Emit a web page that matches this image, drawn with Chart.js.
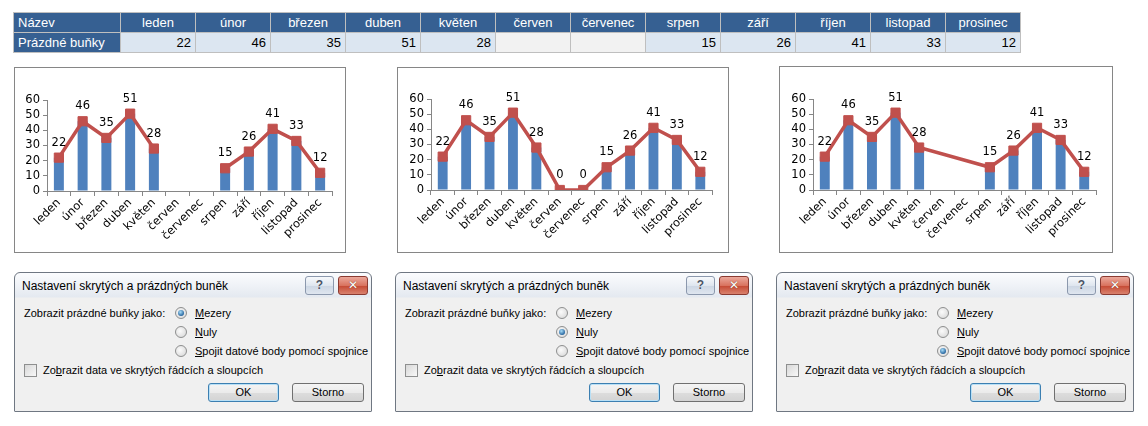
<!DOCTYPE html>
<html>
<head>
<meta charset="utf-8">
<script src="https://cdn.jsdelivr.net/npm/chart.js@4.4.0/dist/chart.umd.min.js"></script>
<style>
body{margin:0;background:#fff;width:1148px;height:426px;position:relative;overflow:hidden;font-family:"Liberation Sans",Arial,sans-serif;}
#tbl{position:absolute;left:13px;top:12px;border-collapse:collapse;table-layout:fixed;font-size:13px;}
#tbl td{height:19px;padding:0 4px;border:1px solid #bfbfbf;white-space:nowrap;overflow:hidden;}
#tbl tr.head td{background:#366092;color:#fff;text-align:center;}
#tbl td.name{background:#366092;color:#fff;text-align:left;}
#tbl td.num{background:#dce6f1;color:#000;text-align:right;}
#tbl td.empty{background:#f2f2f2;}
.box{position:absolute;border:1px solid #868686;background:#fff;}
.box canvas{display:block;}
.dlg{position:absolute;top:272px;width:358px;height:140px;box-sizing:border-box;border:1px solid #6f7782;border-radius:6px 6px 1px 1px;background:linear-gradient(#fbfcfe 0,#e4e9f0 24px,#f0f0f0 25px);font-size:11px;color:#000;}
.dlg .title{position:absolute;left:7px;top:6px;font-size:12px;}
.dlg .hb{position:absolute;top:3px;height:17px;border-radius:3px;text-align:center;line-height:17px;font-weight:bold;font-size:12px;}
.dlg .help{left:290px;width:27px;border:1px solid #8b98ad;background:linear-gradient(#f7f9fc,#dfe6ef 50%,#ccd6e3 51%,#dfe6f0);color:#4a5566;text-shadow:0 0 1px #fff;}
.dlg .close{left:323px;width:28px;border:1px solid #8a3a31;background:linear-gradient(#eba89b,#d9735f 50%,#c54832 51%,#d9826e);color:#fff;text-shadow:0 0 1px #5a1a10;font-family:"DejaVu Sans",sans-serif;}
.dlg .lbl{position:absolute;line-height:14px;white-space:nowrap;}
.dlg .rb{position:absolute;left:160px;width:12px;height:12px;box-sizing:border-box;border:1px solid #8e8f8f;border-radius:50%;background:radial-gradient(circle at 40% 40%,#fbfbfb,#d4d4d4);}
.dlg .rb.on::after{content:'';position:absolute;left:2px;top:2px;width:6px;height:6px;border-radius:50%;background:radial-gradient(circle at 40% 35%,#a9ddf8,#1f5f9a 75%);}
.dlg .cb{position:absolute;left:9px;top:91px;width:11px;height:11px;border:1px solid #8e8f8f;background:linear-gradient(135deg,#d8d8d8,#f8f8f8);}
.dlg .btn{position:absolute;top:110px;height:19px;box-sizing:border-box;border:1px solid #707070;border-radius:3px;background:linear-gradient(#f4f4f4,#ebebeb 50%,#dddddd 51%,#d3d3d3);text-align:center;line-height:17px;}
.dlg .btn.def{border-color:#3c7fb1;box-shadow:inset 0 0 0 1px #b9e0f6;}
</style>
</head>
<body>
<table id="tbl"></table>

<div class="box" style="left:14px;top:67px;"><canvas id="c1" width="330" height="184"></canvas></div>
<div class="box" style="left:397px;top:67px;"><canvas id="c2" width="330" height="184"></canvas></div>
<div class="box" style="left:779px;top:66px;"><canvas id="c3" width="332" height="185"></canvas></div>

<div id="dialogs"></div>

<script>
// data
const months = ['leden', 'únor', 'březen', 'duben', 'květen', 'červen', 'červenec', 'srpen', 'září', 'říjen', 'listopad', 'prosinec'];
const emptyCells = [22, 46, 35, 51, 28, null, null, 15, 26, 41, 33, 12];
const emptyAsZero = [22, 46, 35, 51, 28, 0, 0, 15, 26, 41, 33, 12];
const yTicks = [0, 10, 20, 30, 40, 50, 60];
const rowName = 'Prázdné buňky';
const headName = 'Název';

const dlgTitle = 'Nastavení skrytých a prázdných buněk';
const dlgOptions = ['<u>M</u>ezery', '<u>N</u>uly', '<u>S</u>pojit datové body pomocí spojnice'];

// table
const tbl = document.getElementById('tbl');
let html = '<colgroup><col style="width:107px">' + months.map(() => '<col style="width:75px">').join('') + '</colgroup>';
html += '<tr class="head"><td style="text-align:left">' + headName + '</td>' + months.map(m => '<td>' + m + '</td>').join('') + '</tr>';
html += '<tr><td class="name">' + rowName + '</td>' + emptyCells.map(v => v === null ? '<td class="empty"></td>' : '<td class="num">' + v + '</td>').join('') + '</tr>';
tbl.innerHTML = html;

// labels above the points
const valueLabels = {
  id: 'valueLabels',
  afterDatasetsDraw(chart) {
    const ctx = chart.ctx;
    const meta = chart.getDatasetMeta(0);
    const vals = chart.data.datasets[0].data;
    ctx.save();
    ctx.font = '11.5px "DejaVu Sans"';
    ctx.fillStyle = '#000';
    ctx.textAlign = 'center';
    ctx.textBaseline = 'alphabetic';
    meta.data.forEach((pt, i) => {
      if (vals[i] === null) return;
      ctx.fillText(String(vals[i]), pt.x, pt.y - 12);
    });
    ctx.restore();
  }
};

const tickFont = { family: '"DejaVu Sans"', size: 11.5 };

function drawChart(id, values, joinGaps, g) {
  new Chart(document.getElementById(id), {
    type: 'bar',
    data: {
      labels: months,
      datasets: [
        {
          type: 'line',
          data: values,
          borderColor: '#C0504D',
          borderWidth: 3.5,
          pointStyle: 'rect',
          pointRadius: 6.5,
          pointBackgroundColor: '#C0504D',
          pointBorderColor: '#C0504D',
          pointBorderWidth: 1,
          spanGaps: joinGaps,
          tension: 0,
          order: 0
        },
        {
          type: 'bar',
          data: values,
          backgroundColor: '#4F81BD',
          barPercentage: 0.42,
          categoryPercentage: 1,
          order: 1
        }
      ]
    },
    options: {
      responsive: false,
      animation: false,
      events: [],
      layout: { padding: { left: 0, top: g.padT, right: g.padR, bottom: 0 } },
      plugins: { legend: { display: false }, tooltip: { enabled: false } },
      scales: {
        x: {
          grid: { offset: true, drawOnChartArea: false, tickLength: 5, color: '#868686' },
          border: { color: '#868686' },
          ticks: { color: '#000', font: tickFont, maxRotation: 45, minRotation: 45, autoSkip: false, padding: 0 },
          afterFit(s) { s.height = g.axisH; }
        },
        y: {
          min: 0,
          max: 60,
          afterBuildTicks(s) { s.ticks = yTicks.map(v => ({ value: v })); },
          grid: { drawOnChartArea: false, tickLength: 4, color: '#868686' },
          border: { color: '#868686' },
          ticks: { color: '#000', font: tickFont, padding: 3, autoSkip: false },
          afterFit(s) { s.width = g.padL; }
        }
      }
    },
    plugins: [valueLabels]
  });
}

drawChart('c1', emptyCells, false, { padL: 32, padT: 32, padR: 13, axisH: 61 });
drawChart('c2', emptyAsZero, false, { padL: 33, padT: 31, padR: 16, axisH: 62 });
drawChart('c3', emptyCells, true, { padL: 33, padT: 32, padR: 16, axisH: 62 });

// dialogs
function dialog(left, selected) {
  let s = '<div class="dlg" style="left:' + left + 'px">';
  s += '<div class="title">' + dlgTitle + '</div>';
  s += '<div class="hb help">?</div><div class="hb close">✕</div>';
  s += '<div class="lbl" style="left:9px;top:33px">Zobrazit prázdné buňky jako:</div>';
  dlgOptions.forEach((o, i) => {
    const y = 40 + i * 19;
    s += '<div class="rb' + (i === selected ? ' on' : '') + '" style="top:' + (y - 6) + 'px"></div>';
    s += '<div class="lbl" style="left:180px;top:' + (y - 7) + 'px">' + o + '</div>';
  });
  s += '<div class="cb"></div>';
  s += '<div class="lbl" style="left:28px;top:90px">Zo<u>b</u>razit data ve skrytých řádcích a sloupcích</div>';
  s += '<div class="btn def" style="left:193px;width:71px">OK</div>';
  s += '<div class="btn" style="left:277px;width:72px">Storno</div>';
  s += '</div>';
  return s;
}
document.getElementById('dialogs').innerHTML = dialog(14, 0) + dialog(395, 1) + dialog(776, 2);
</script>
</body>
</html>
